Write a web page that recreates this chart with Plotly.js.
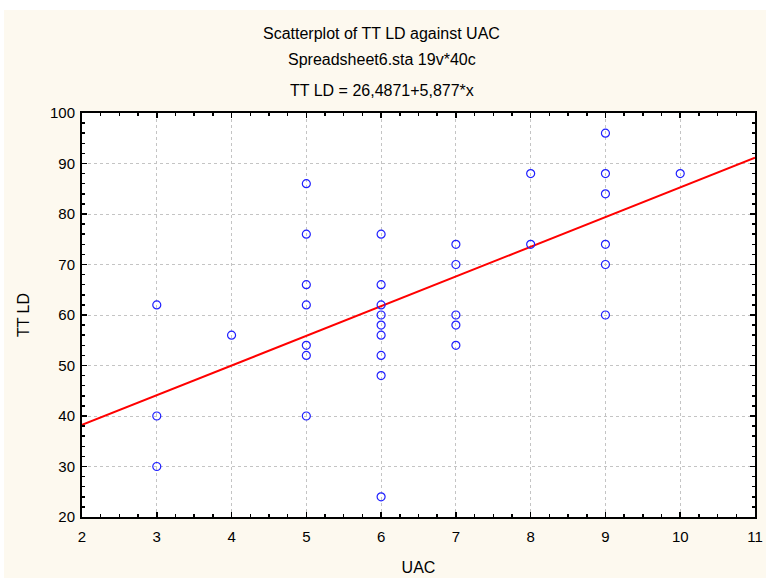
<!DOCTYPE html>
<html>
<head>
<meta charset="utf-8">
<script src="https://cdn.plot.ly/plotly-3.0.1.min.js"></script>
<style>
html,body{margin:0;padding:0;background:#ffffff;width:766px;height:578px;overflow:hidden;}
#chart{position:absolute;left:4px;top:10px;width:762px;height:568px;}
</style>
</head>
<body>
<div id="chart"></div>
<script>
const uac = [3,3,3, 4, 5,5,5,5,5,5,5, 6,6,6,6,6,6,6,6,6, 7,7,7,7,7, 8,8, 9,9,9,9,9,9, 10];
const ttld = [62,40,30, 56, 86,76,66,62,54,52,40, 76,66,62,60,58,56,52,48,24, 74,70,60,58,54, 88,74, 96,88,84,74,70,60, 88];
// Regression coefficients from the chart title
const intercept = 26.4871;
const slope = 5.877;
const xRange = [2, 11];
const yRange = [20, 100];
const titleLines = ["Scatterplot of TT LD against UAC", "Spreadsheet6.sta 19v*40c", "TT LD = 26,4871+5,877*x"];
const xTitle = "UAC";
const yTitle = "TT LD";

const fitX = xRange.slice();
const fitY = fitX.map(v => intercept + slope * v);

const fam = "Liberation Sans, Arial, sans-serif";
const tickFont = {family: fam, size: 15, color: "#000"};
const titleFont = {family: fam, size: 16, color: "#000"};

const traces = [
  {x: fitX, y: fitY, mode: "lines", line: {color: "#ff0000", width: 2}, hoverinfo: "skip"},
  {x: uac, y: ttld, mode: "markers", marker: {symbol: "circle-open", size: 8, color: "#1f1fff", line: {width: 1.2, color: "#1f1fff"}}}
];

const axisCommon = {
  showline: true, linecolor: "#000", linewidth: 2, mirror: "ticks",
  ticks: "inside", ticklen: 5, tickwidth: 1.5, tickcolor: "#000",
  showgrid: true, gridcolor: "#c4c4c4", griddash: "dot", gridwidth: 1,
  zeroline: false, tickfont: tickFont, fixedrange: true
};

const layout = {
  width: 762, height: 568,
  paper_bgcolor: "#fdf9ef", plot_bgcolor: "#ffffff",
  margin: {l: 78, r: 11, t: 103, b: 61},
  showlegend: false,
  font: tickFont,
  xaxis: Object.assign({}, axisCommon, {
    range: xRange, dtick: 1, tick0: 2, ticklabelstandoff: 5,
    minor: {ticks: "inside", dtick: 0.25, ticklen: 3, tickcolor: "#000", showgrid: false},
    title: {text: xTitle, font: titleFont, standoff: 18}
  }),
  yaxis: Object.assign({}, axisCommon, {
    range: yRange, dtick: 10, tick0: 20, ticklabelstandoff: 2,
    minor: {ticks: "inside", dtick: 2, ticklen: 3, tickcolor: "#000", showgrid: false},
    title: {text: yTitle, font: titleFont, standoff: 16}
  }),
  annotations: titleLines.map((t, i) => ({
    text: t, xref: "paper", yref: "paper", showarrow: false,
    x: (381.5 - 4 - 78) / (762 - 78 - 11), xanchor: "center",
    y: 1 + ([23.3, 49.5, 81][i] - (113 - 10)) * -1 / (568 - 103 - 61), yanchor: "middle",
    font: titleFont
  }))
};

Plotly.newPlot("chart", traces, layout, {displayModeBar: false, staticPlot: true});
</script>
</body>
</html>
